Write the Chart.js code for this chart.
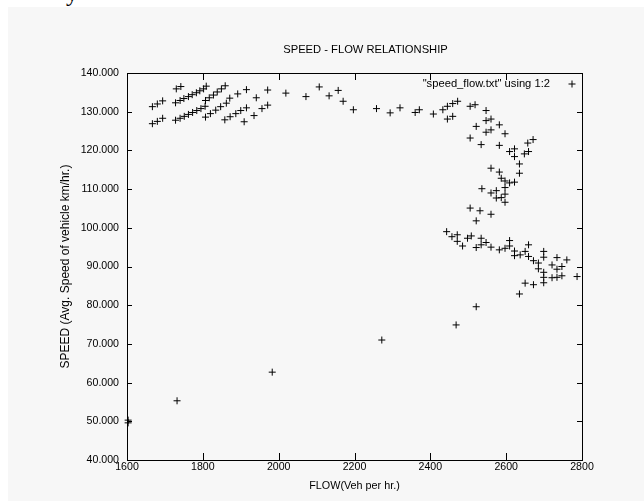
<!DOCTYPE html>
<html>
<head>
<meta charset="utf-8">
<title>Speed - Flow Relationship</title>
<script src="https://cdn.jsdelivr.net/npm/chart.js@4.4.1/dist/chart.umd.min.js"></script>
<style>
  html, body { margin: 0; padding: 0; background: #fff; }
  #wrap { position: relative; width: 644px; height: 501px; overflow: hidden; }
  #paper { position: absolute; left: 8px; top: 7px; right: 0; bottom: 0; background: #f7f7f7; }
  #scrap { position: absolute; left: 66px; top: -19px; font: 24px "Liberation Serif", serif; line-height: 24px; }
  canvas { position: absolute; left: 0; top: 0; }
</style>
</head>
<body>
<div id="wrap">
  <div id="paper"></div>
  <span id="scrap">y</span>
  <canvas id="speedFlowChart" width="644" height="501"></canvas>
</div>
<script>
const chartTitle = "SPEED - FLOW RELATIONSHIP";
const seriesLabel = "\"speed_flow.txt\" using 1:2";
const xTitle = "FLOW(Veh per hr.)";
const yTitle = "SPEED (Avg. Speed of vehicle km/hr.)";

const flowMin = 1600, flowMax = 2800, flowStep = 200;
const speedMin = 40, speedMax = 140, speedStep = 10;

const flowVehPerHr = [
  1667, 1680, 1694, 1667, 1680, 1694,
  1730, 1742,
  1728, 1740, 1750, 1762, 1772, 1783, 1792, 1802, 1809,
  1728, 1740, 1751, 1762, 1773, 1784, 1795, 1806,
  1807, 1817, 1828, 1838, 1849, 1859,
  1807, 1820, 1834, 1847, 1862,
  1871, 1892, 1915,
  1858, 1872, 1887, 1900, 1915,
  1909, 1935, 1941, 1956, 1971, 1971,
  2019, 2072, 2107, 2133, 2157, 2170, 2197, 2258, 2294, 2320,
  2360, 2371, 2408, 2433, 2445, 2459, 2472, 2445, 2459,
  2505, 2518, 2547, 2547, 2560, 2582, 2521, 2547, 2560, 2597,
  2505, 2534, 2582, 2609, 2622, 2657, 2671, 2648, 2659, 2622,
  2635, 2635, 2560, 2582, 2587, 2597, 2609, 2622, 2536, 2560,
  2574, 2597, 2597, 2574, 2587, 2597, 2505, 2531, 2560, 2521,
  2443, 2457, 2471, 2471, 2485, 2498, 2508, 2521, 2534, 2534,
  2547, 2560, 2582, 2597, 2609, 2609, 2622, 2622, 2637, 2650,
  2659, 2659, 2672, 2685, 2685, 2699, 2699, 2699, 2699, 2699,
  2721, 2721, 2734, 2734, 2734, 2747, 2747, 2760, 2787,
  2650, 2672, 2635, 2521,
  1603, 1603, 1732, 1983, 2272, 2468
];
const avgSpeedKmHr = [
  126.9, 127.5, 128.3, 131.3, 132.0, 132.8,
  135.9, 136.5,
  132.3, 132.9, 133.4, 133.9, 134.4, 134.9, 135.4, 135.9, 136.6,
  127.8, 128.3, 128.8, 129.3, 129.8, 130.3, 130.8, 131.4,
  132.9, 133.6, 134.3, 135.1, 135.9, 136.7,
  128.6, 129.5, 130.4, 131.3, 132.2,
  133.5, 134.6, 135.7,
  127.9, 128.7, 129.5, 130.3, 131.0,
  127.4, 129.0, 133.6, 130.8, 131.7, 135.6,
  134.8, 133.9, 136.4, 134.1, 135.5, 132.7, 130.5, 130.8, 129.7, 131.0,
  129.8, 130.5, 129.4, 130.5, 131.4, 132.1, 132.7, 128.1, 128.8,
  131.4, 131.8, 130.3, 127.7, 128.1, 126.6, 126.2, 124.7, 125.3, 124.3,
  123.2, 121.5, 121.3, 119.7, 120.4, 121.9, 122.8, 119.1, 119.7, 118.4,
  116.5, 114.1, 115.4, 114.4, 112.8, 112.1, 111.6, 111.8, 110.1, 109.0,
  109.6, 110.4, 108.7, 107.7, 107.8, 106.6, 105.1, 104.4, 103.5, 101.8,
  99.0, 97.7, 98.2, 96.5, 95.3, 97.3, 97.9, 94.9, 97.3, 95.6,
  96.2, 95.0, 94.3, 94.7, 96.7, 95.3, 94.0, 92.8, 93.0, 93.9,
  95.6, 92.6, 91.5, 90.9, 89.4, 93.9, 92.4, 88.5, 87.2, 85.8,
  90.4, 87.1, 92.3, 89.3, 87.2, 90.0, 87.6, 91.7, 87.4,
  85.7, 85.3, 82.9, 79.6,
  50.3, 49.6, 55.3, 62.7, 71.0, 74.9
];

const fontFamily = "'Liberation Sans', Arial, sans-serif";
const tickFont = { family: fontFamily, size: 10.6 };
const titleFont = { family: fontFamily, size: 11.2 };
const xTitleFont = { family: fontFamily, size: 10.8 };
const yTitleFont = { family: fontFamily, size: 12 };

// gnuplot look: closed frame, inward ticks on all four sides, title and key drawn inside
const gnuplotFrame = {
  id: "gnuplotFrame",
  afterDraw(chart) {
    const { ctx, chartArea: a, scales } = chart;
    const line = (x1, y1, x2, y2) => {
      ctx.beginPath();
      ctx.moveTo(x1, y1);
      ctx.lineTo(x2, y2);
      ctx.stroke();
    };
    ctx.save();
    ctx.strokeStyle = "#000";
    ctx.lineWidth = 1;
    ctx.strokeRect(a.left + 0.5, a.top + 0.5, a.right - a.left, a.bottom - a.top);

    scales.x.ticks.forEach(t => {
      const px = Math.round(scales.x.getPixelForValue(t.value)) + 0.5;
      line(px, a.bottom, px, a.bottom - 7);
      line(px, a.top, px, a.top + 7);
    });
    scales.y.ticks.forEach(t => {
      const py = Math.round(scales.y.getPixelForValue(t.value)) + 0.5;
      line(a.left, py, a.left + 5, py);
      line(a.right, py, a.right - 5, py);
    });

    ctx.fillStyle = "#000";
    ctx.font = titleFont.size + "px " + fontFamily;
    ctx.textBaseline = "middle";
    ctx.textAlign = "center";
    ctx.fillText(chartTitle, (a.left + a.right) / 2 + 11, a.top - 23);

    ctx.textAlign = "right";
    ctx.fillText(seriesLabel, a.right - 32, a.top + 11);
    Chart.helpers.drawPoint(ctx, { pointStyle: "cross", radius: 3.5, rotation: 0, borderWidth: 1 },
      a.right - 10, a.top + 11);
    ctx.restore();
  }
};

const points = flowVehPerHr.map((f, i) => ({ x: f, y: avgSpeedKmHr[i] }));

new Chart(document.getElementById("speedFlowChart"), {
  type: "scatter",
  data: {
    datasets: [{
      label: seriesLabel,
      data: points,
      pointStyle: "cross",
      pointRadius: 3.5,
      pointHoverRadius: 3.5,
      borderColor: "#000",
      backgroundColor: "#000",
      borderWidth: 1,
      clip: false
    }]
  },
  options: {
    responsive: false,
    animation: false,
    events: [],
    layout: { padding: { left: 0, right: 62, top: 73, bottom: 0 } },
    plugins: {
      legend: { display: false },
      title: { display: false },
      tooltip: { enabled: false }
    },
    scales: {
      x: {
        type: "linear",
        min: flowMin,
        max: flowMax,
        grid: { display: false, drawTicks: false },
        border: { display: false },
        ticks: { stepSize: flowStep, color: "#000", font: tickFont, padding: 1, maxRotation: 0,
                 callback: v => String(v) },
        title: { display: true, text: xTitle, color: "#000", font: xTitleFont, padding: { top: 0, bottom: 8 } },
        afterFit: s => { s.height = 41; }
      },
      y: {
        min: speedMin,
        max: speedMax,
        grid: { display: false, drawTicks: false },
        border: { display: false },
        ticks: { stepSize: speedStep, color: "#000", font: tickFont, padding: 8, callback: v => v.toFixed(3) },
        title: { display: true, text: yTitle, color: "#000", font: yTitleFont, padding: { top: 58, bottom: 0 } },
        afterFit: s => { s.width = 127; }
      }
    }
  },
  plugins: [gnuplotFrame]
});
</script>
</body>
</html>
